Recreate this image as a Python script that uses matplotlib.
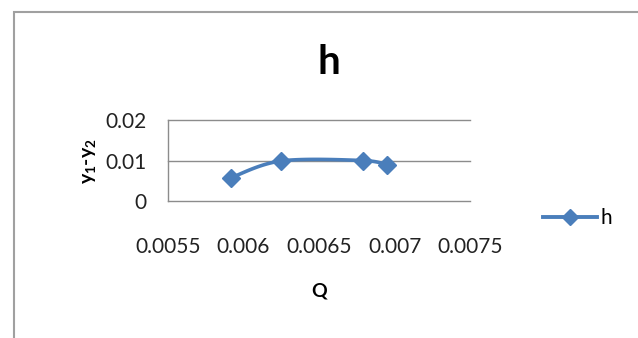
import matplotlib

matplotlib.use("Agg")
import matplotlib.pyplot as plt
import numpy as np
from matplotlib.patches import Rectangle

# Datos de la serie h
q_vals = [0.00592, 0.00625, 0.00679, 0.00695]
h_vals = [0.0058, 0.0099, 0.0100, 0.0089]
x_ticks = [0.0055, 0.006, 0.0065, 0.007, 0.0075]
x_tick_labels = ["0.0055", "0.006", "0.0065", "0.007", "0.0075"]
y_ticks = [0, 0.01, 0.02]
y_tick_labels = ["0", "0.01", "0.02"]

COLOR = "#4a7ebb"
GRID = "#8c8c8c"

plt.rcParams["font.family"] = ["Lato", "DejaVu Sans"]
plt.rcParams["mathtext.fontset"] = "custom"
plt.rcParams["mathtext.rm"] = "Lato"
plt.rcParams["mathtext.bf"] = "Lato:bold"


def suavizar(x, y, n=40):
    """Curva suave tipo Excel (Bezier con tangentes Catmull-Rom)."""
    x = np.asarray(x, float)
    y = np.asarray(y, float)
    px = np.concatenate([[x[0]], x, [x[-1]]])
    py = np.concatenate([[y[0]], y, [y[-1]]])
    xs, ys = [], []
    t = np.linspace(0, 1, n)
    for i in range(1, len(px) - 2):
        p0 = np.array([px[i], py[i]])
        p3 = np.array([px[i + 1], py[i + 1]])
        c1 = p0 + (np.array([px[i + 1], py[i + 1]]) - np.array([px[i - 1], py[i - 1]])) / 6
        c2 = p3 - (np.array([px[i + 2], py[i + 2]]) - np.array([px[i], py[i]])) / 6
        b = ((1 - t) ** 3)[:, None] * p0 + (3 * (1 - t) ** 2 * t)[:, None] * c1 \
            + (3 * (1 - t) * t ** 2)[:, None] * c2 + (t ** 3)[:, None] * p3
        xs.append(b[:, 0])
        ys.append(b[:, 1])
    return np.concatenate(xs), np.concatenate(ys)


fig = plt.figure(figsize=(6.38, 3.38), dpi=100)
ax = fig.add_axes([0.263, 0.405, 0.474, 0.240])

# Marco del área de gráfico
fig.patches.append(Rectangle((14 / 638, -0.1), 1.2, (338 - 12) / 338 + 0.1,
                             transform=fig.transFigure, fill=False,
                             edgecolor="#a0a0a0", linewidth=1.5))

sx, sy = suavizar(q_vals, h_vals)
ax.plot(sx, sy, color=COLOR, linewidth=2.6, solid_capstyle="round")
ax.plot(q_vals, h_vals, linestyle="none", marker="D", markersize=9.5,
        color=COLOR)

ax.set_xlim(0.0055, 0.0075)
ax.set_ylim(0, 0.02)
ax.set_xticks(x_ticks)
ax.set_xticklabels(x_tick_labels)
ax.set_yticks(y_ticks)
ax.set_yticklabels(y_tick_labels)
ax.tick_params(axis="both", length=0, labelsize=15, colors="#222222")
ax.tick_params(axis="x", pad=26)
ax.tick_params(axis="y", pad=15)

for s in ["top", "right", "bottom"]:
    ax.spines[s].set_visible(False)
ax.spines["left"].set_color(GRID)
ax.spines["left"].set_linewidth(1.0)
ax.yaxis.grid(True, color=GRID, linewidth=1.0)
for gl in ax.get_ygridlines():
    gl.set_clip_on(False)
ax.set_axisbelow(True)

ax.set_xlabel("Q", fontsize=14, fontweight="bold", labelpad=18)
ax.set_ylabel(r"y$_\mathbf{1}$-y$_\mathbf{2}$", fontsize=14,
              fontweight="bold", labelpad=5)

fig.text(0.515, 0.815, "h", ha="center", va="center", fontsize=29,
         fontweight="bold")

# Leyenda
ax.plot([], [], color=COLOR, linewidth=2.8, marker="D", markersize=8,
        label="h")
handles, labels = ax.get_legend_handles_labels()
fig.legend(handles[-1:], labels[-1:], loc="center left",
           bbox_to_anchor=(0.838, 0.355), frameon=False, fontsize=15,
           handlelength=2.6, handletextpad=0.15, borderaxespad=0)

fig.savefig("out.png", dpi=100, facecolor="white")
